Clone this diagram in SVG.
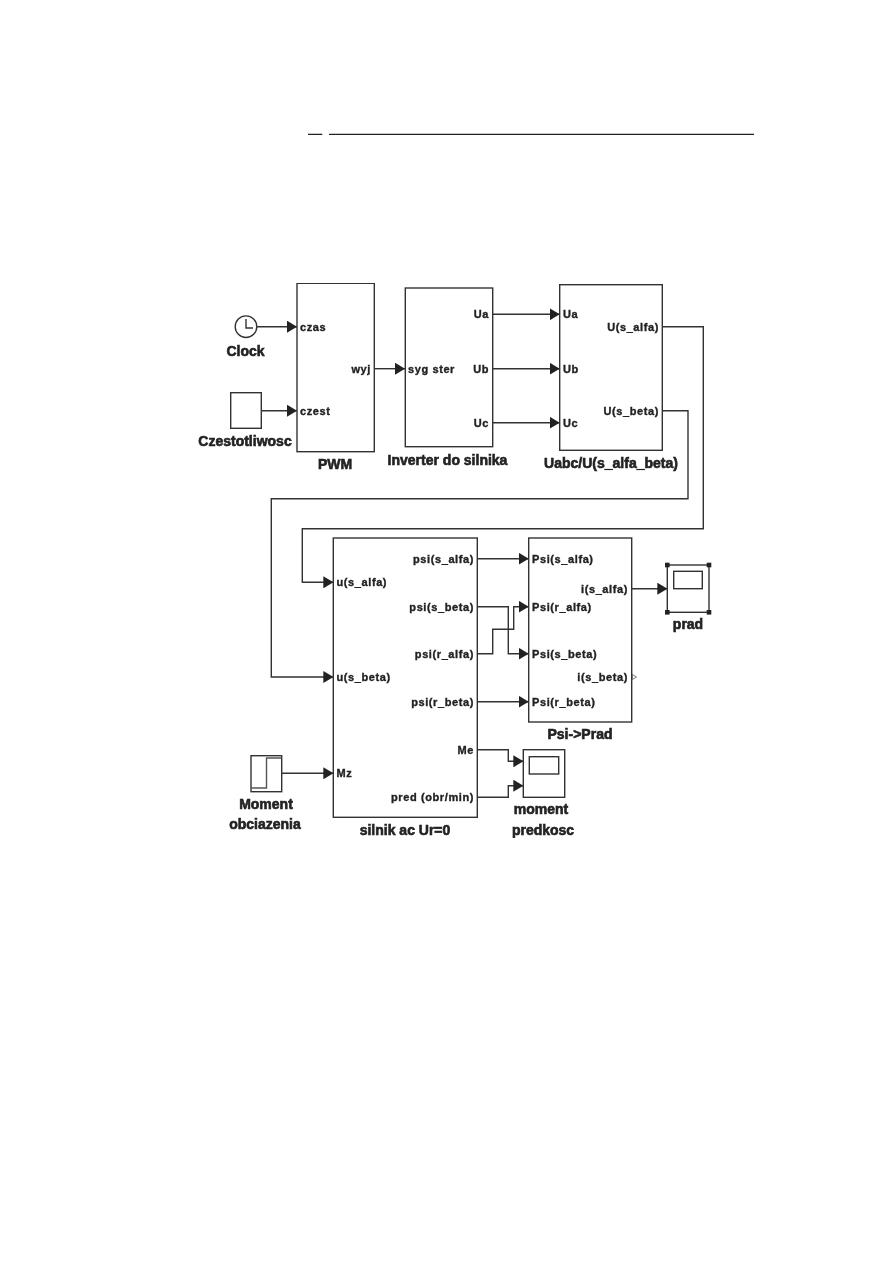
<svg xmlns="http://www.w3.org/2000/svg" width="893" height="1263" viewBox="0 0 893 1263">
<defs>
<marker id="arr" markerUnits="userSpaceOnUse" markerWidth="10" markerHeight="12" refX="10" refY="6" orient="auto"><path d="M0,0 L10,6 L0,12 Z" fill="#222"/></marker>
<filter id="soft" x="0" y="0" width="1" height="1"><feGaussianBlur stdDeviation="0.3"/></filter>
</defs>
<style>
.b{fill:#fff;stroke:#333;stroke-width:1.4}
.i{fill:none;stroke:#333;stroke-width:1.4}
.w{fill:none;stroke:#333;stroke-width:1.4;marker-end:url(#arr)}
text{font-family:"Liberation Sans",Arial,sans-serif;font-weight:bold;fill:#222}
.p{font-size:11px;letter-spacing:.6px;stroke:#222;stroke-width:.35}
.l{font-size:14px;stroke:#222;stroke-width:.6;text-anchor:middle}
.e{text-anchor:end}
</style>
<rect width="893" height="1263" fill="#fff"/>
<path d="M308,134.3H322.3M329,134.3H754" stroke="#222" stroke-width="1.2" fill="none"/>
<g filter="url(#soft)">
<g id="connectors">
<path class="w" d="M257,326.7H297"/>
<path class="w" d="M261.5,410.7H297"/>
<path class="w" d="M374.5,368.7H405"/>
<path class="w" d="M492.7,314.3H559.7"/>
<path class="w" d="M492.7,368.7H559.7"/>
<path class="w" d="M492.7,422.7H559.7"/>
<path class="w" d="M662.3,326.7H703.3V528.7H302.3V582.3H333.3"/>
<path class="w" d="M662.3,410.7H688V498.7H271.3V677H333.3"/>
<path class="w" d="M281.7,773.3H333.3"/>
<path class="w" d="M477.3,558.7H528.7"/>
<path class="w" d="M477.3,606.7H508.3V653.7H528.7"/>
<path class="w" d="M477.3,653.7H492.7V629.3H513.7V606.7H528.7"/>
<path class="w" d="M477.3,701.7H528.7"/>
<path class="w" d="M477.3,749.7H508.3V761.3H523.3"/>
<path class="w" d="M477.3,797.3H508.3V785.7H523.3"/>
<path class="w" d="M631.7,588.7H667.3"/>
</g>
<g id="clock">
<circle class="b" cx="246" cy="326.7" r="10.8"/>
<path class="i" d="M246,319V328H253"/>
<text class="l" x="245.5" y="356">Clock</text>
</g>
<g id="czestotliwosc">
<rect class="b" x="230.7" y="392.7" width="30.6" height="35.6"/>
<text class="l" x="245" y="446">Czestotliwosc</text>
</g>
<g id="pwm">
<rect class="b" x="297" y="283.3" width="77.3" height="168.4"/>
<text class="p" x="300" y="330.5">czas</text>
<text class="p" x="300" y="414.5">czest</text>
<text class="p e" x="371" y="372.5">wyj</text>
<text class="l" x="335" y="469">PWM</text>
</g>
<g id="inverter">
<rect class="b" x="405.3" y="288" width="87.4" height="158.7"/>
<text class="p" x="408" y="372.5">syg ster</text>
<text class="p e" x="489" y="318">Ua</text>
<text class="p e" x="489" y="372.5">Ub</text>
<text class="p e" x="489" y="426.5">Uc</text>
<text class="l" x="447.5" y="464.5">Inverter do silnika</text>
</g>
<g id="uabc">
<rect class="b" x="559.7" y="284.7" width="102.6" height="165.6"/>
<text class="p" x="563" y="318">Ua</text>
<text class="p" x="563" y="372.5">Ub</text>
<text class="p" x="563" y="426.5">Uc</text>
<text class="p e" x="659" y="330.5">U(s_alfa)</text>
<text class="p e" x="659" y="414.5">U(s_beta)</text>
<text class="l" x="611" y="468">Uabc/U(s_alfa_beta)</text>
</g>
<g id="silnik">
<rect class="b" x="333.3" y="538" width="144" height="279.3"/>
<text class="p" x="336.5" y="586">u(s_alfa)</text>
<text class="p" x="336.5" y="681">u(s_beta)</text>
<text class="p" x="336.5" y="777">Mz</text>
<text class="p e" x="474" y="562.5">psi(s_alfa)</text>
<text class="p e" x="474" y="610.5">psi(s_beta)</text>
<text class="p e" x="474" y="657.5">psi(r_alfa)</text>
<text class="p e" x="474" y="705.5">psi(r_beta)</text>
<text class="p e" x="474" y="753.5">Me</text>
<text class="p e" x="474" y="801">pred (obr/min)</text>
<text class="l" x="405" y="835">silnik ac Ur=0</text>
</g>
<g id="moment-obciazenia">
<rect class="b" x="251" y="755.7" width="30.7" height="36"/>
<path d="M251,788H266.5V758H281.7" fill="none" stroke="#555" stroke-width="1.4"/>
<text class="l" x="266" y="809">Moment</text>
<text class="l" x="265" y="829">obciazenia</text>
</g>
<g id="psi-prad">
<rect class="b" x="528.7" y="538" width="103" height="184"/>
<text class="p" x="532" y="562.5">Psi(s_alfa)</text>
<text class="p" x="532" y="610.5">Psi(r_alfa)</text>
<text class="p" x="532" y="657.5">Psi(s_beta)</text>
<text class="p" x="532" y="705.5">Psi(r_beta)</text>
<text class="p e" x="628" y="592.5">i(s_alfa)</text>
<text class="p e" x="628" y="681">i(s_beta)</text>
<path d="M632.5,674.5L636.5,677L632.5,679.5Z" fill="#fff" stroke="#555" stroke-width=".8"/>
<text class="l" x="580" y="739">Psi-&gt;Prad</text>
</g>
<g id="prad">
<rect class="b" x="667.3" y="565" width="41.7" height="47.3"/>
<rect class="i" x="673.7" y="571.3" width="28.6" height="17.4"/>
<g fill="#222"><rect x="665" y="562.7" width="4.6" height="4.6"/><rect x="706.7" y="562.7" width="4.6" height="4.6"/><rect x="665" y="610" width="4.6" height="4.6"/><rect x="706.7" y="610" width="4.6" height="4.6"/></g>
<text class="l" x="688" y="629">prad</text>
</g>
<g id="moment-predkosc">
<rect class="b" x="523.3" y="749.7" width="41.4" height="47.6"/>
<rect class="i" x="529.3" y="756.7" width="29.4" height="17.3"/>
<text class="l" x="541" y="814">moment</text>
<text class="l" x="543" y="835">predkosc</text>
</g>
</g>
</svg>
